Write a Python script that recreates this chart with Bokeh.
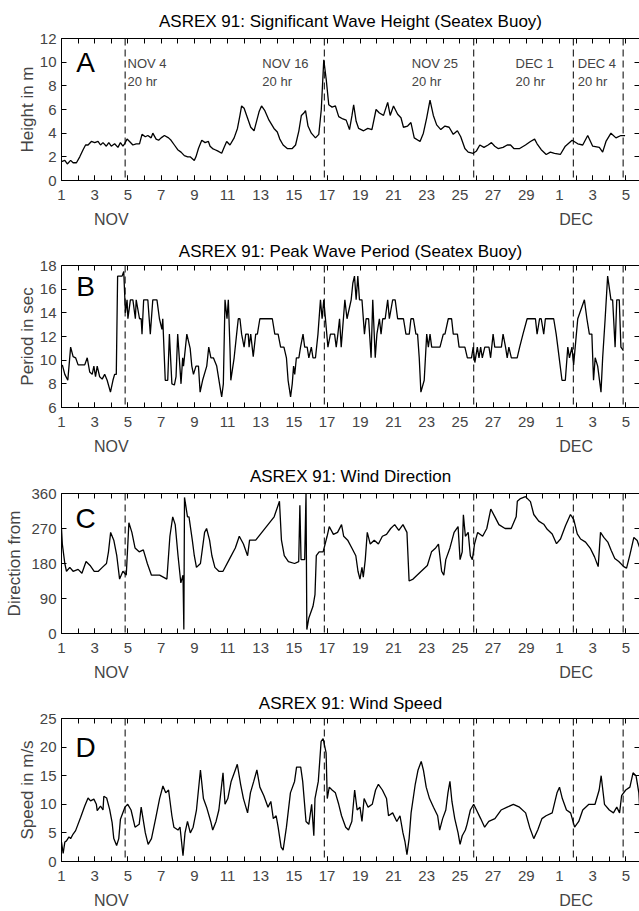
from bokeh.plotting import figure
from bokeh.models import Range1d, LinearAxis, FixedTicker, Span, Label
from bokeh.layouts import column
from bokeh.embed import file_html
from bokeh.resources import INLINE

FONT = "Liberation Sans"

# ---------------- data (day of Nov 1991; Dec 1 = day 31) ----------------
event_days = [4.833, 16.833, 25.833, 31.833, 34.833]
event_names = ["NOV 4", "NOV 16", "NOV 25", "DEC 1", "DEC 4"]
event_hours = ["20 hr", "20 hr", "20 hr", "20 hr", "20 hr"]
event_text_x = [4.98, 13.1, 22.1, 28.35, 32.1]

day_ticks = list(range(1, 37))
label_days = list(range(1, 36, 2))
label_overrides = {31: "1", 33: "3", 35: "5"}
month_days = [4, 32]
month_names = ["NOV", "DEC"]

hs_day = [1.0, 1.2, 1.35, 1.55, 1.7, 1.9, 2.1, 2.3, 2.45, 2.6, 2.8, 3.0, 3.2, 3.35, 3.5, 3.7, 3.85, 4.0,
          4.2, 4.4, 4.55, 4.7, 4.8, 4.95, 5.1, 5.3, 5.5, 5.7, 5.85, 6.05, 6.2, 6.4, 6.5, 6.7, 6.85, 7.0,
          7.2, 7.45, 7.6, 7.8, 8.0, 8.2, 8.4, 8.6, 8.75, 9.0, 9.1, 9.25, 9.45, 9.65, 9.85, 9.95, 10.1,
          10.25, 10.4, 10.65, 10.8, 10.95, 11.15, 11.4, 11.6, 11.75, 11.85, 12.0, 12.2, 12.4, 12.6,
          12.75, 12.9, 13.05, 13.25, 13.5, 13.8, 14.0, 14.15, 14.35, 14.6, 14.9, 15.1, 15.3, 15.45,
          15.6, 15.7, 15.85, 16.05, 16.3, 16.5, 16.65, 16.8, 16.95, 17.1, 17.3, 17.5, 17.7, 17.95,
          18.15, 18.35, 18.5, 18.6, 18.75, 18.9, 19.2, 19.45, 19.7, 19.95, 20.15, 20.4, 20.65, 20.8,
          21.0, 21.25, 21.45, 21.6, 21.85, 22.05, 22.25, 22.6, 22.8, 23.0, 23.2, 23.4, 23.6, 23.85,
          24.1, 24.35, 24.6, 24.85, 25.05, 25.3, 25.5, 25.8, 26.0, 26.2, 26.45, 26.7, 26.9, 27.1,
          27.3, 27.6, 27.85, 28.05, 28.25, 28.6, 28.95, 29.25, 29.5, 29.65, 29.9, 30.2, 30.45, 30.7,
          31.05, 31.35, 31.76, 32.1, 32.4, 32.7, 33.0, 33.4, 33.6, 33.8, 34.1, 34.4, 34.7, 34.95]
hs_val = [1.6, 1.7, 1.4, 1.7, 1.5, 1.5, 2.0, 2.6, 3.0, 3.0, 3.3, 3.2, 3.3, 3.0, 3.2, 2.9, 3.2, 2.9,
          3.1, 2.8, 3.2, 2.9, 3.1, 3.5, 3.3, 3.0, 3.1, 3.1, 3.9, 3.7, 3.8, 3.6, 4.0, 3.5, 3.4, 3.6,
          3.8, 3.6, 3.4, 3.0, 2.6, 2.4, 2.1, 2.0, 2.0, 1.7, 2.0, 2.7, 3.4, 3.2, 3.3, 2.9, 2.7,
          2.6, 2.5, 2.3, 2.8, 3.3, 3.0, 3.6, 4.4, 5.5, 6.3, 6.1, 5.3, 4.5, 4.2,
          5.0, 5.8, 6.3, 5.9, 5.1, 4.4, 4.1, 3.5, 3.0, 2.7, 2.7, 3.0, 4.2, 5.5,
          5.7, 5.9, 4.6, 4.0, 3.6, 3.9, 6.0, 10.2, 8.5, 6.4, 6.2, 6.3, 5.4, 5.2,
          5.1, 4.3, 5.5, 6.4, 5.0, 4.4, 4.2, 4.4, 4.3, 6.0, 5.7, 5.5, 6.6, 5.5,
          6.3, 5.6, 5.3, 4.5, 4.6, 4.9, 3.6, 3.3, 4.0, 5.3, 6.8, 5.5, 4.7, 4.3,
          4.6, 4.5, 3.9, 4.2, 3.7, 2.7, 2.4, 2.3, 2.5, 3.0, 2.8, 3.0, 3.2, 2.9,
          2.7, 2.8, 3.0, 3.0, 2.7, 2.7, 3.0, 3.3, 3.5, 3.1, 2.6, 2.2, 2.4, 2.3,
          2.2, 2.9, 3.4, 3.1, 3.0, 3.8, 2.9, 2.8, 2.4, 3.3, 4.0, 3.6, 3.8, 3.8]

tp_day = [1.05, 1.2, 1.38, 1.55, 1.7, 1.85, 2.0, 2.4, 2.55, 2.7, 2.85, 2.95, 3.05, 3.15, 3.3, 3.45,
          3.6, 3.75, 3.95, 4.1, 4.2, 4.3, 4.38, 4.65, 4.75, 4.85, 4.95, 5.0, 5.15, 5.3, 5.45, 5.5,
          5.7, 5.8, 5.85, 5.95, 6.2, 6.35, 6.5, 6.75, 6.9, 7.05, 7.1, 7.25, 7.4, 7.5, 7.65, 7.8, 7.9,
          8.0, 8.2, 8.3, 8.35, 8.55, 8.75, 8.85, 8.95, 9.1, 9.25, 9.35, 9.5, 9.75, 9.87, 10.0, 10.15,
          10.35, 10.6, 10.65, 10.75, 10.85, 10.97, 11.05, 11.15, 11.2, 11.4, 11.55, 11.65, 11.75,
          11.85, 12.0, 12.1, 12.25, 12.3, 12.4, 12.55, 12.7, 12.8, 12.95, 13.7, 13.85, 14.05, 14.2,
          14.4, 14.55, 14.65, 14.8, 14.9, 14.98, 15.05, 15.15, 15.3, 15.4, 15.55, 15.65, 15.8, 15.9,
          16.05, 16.15, 16.3, 16.45, 16.6, 16.7, 16.8, 16.9, 17.05, 17.2, 17.45, 17.55, 17.65, 17.75,
          17.85, 18.07, 18.2, 18.45, 18.55, 18.65, 18.75, 18.85, 18.95, 19.1, 19.25, 19.35, 19.5,
          19.65, 19.75, 19.9, 20.0, 20.15, 20.25, 20.35, 20.5, 20.65, 20.75, 20.95, 21.1, 21.25,
          21.6, 21.75, 21.95, 22.05, 22.2, 22.35, 22.45, 22.55, 22.65, 22.85, 23.0, 23.1, 23.2, 23.3,
          23.8, 24.0, 24.1, 24.3, 24.5, 24.6, 24.85, 24.95, 25.3, 25.45, 25.7, 25.8, 25.9, 26.05,
          26.15, 26.25, 26.35, 26.5, 26.75, 26.85, 27.0, 27.1, 27.5, 27.6, 27.75, 27.85, 27.95, 28.1,
          28.45, 28.6, 28.8, 29.05, 29.55, 29.65, 29.8, 29.9, 30.05, 30.15, 30.65, 30.8, 30.9, 31.15,
          31.35, 31.5, 31.6, 31.75, 31.85, 32.1, 32.5, 32.65, 32.8, 32.95, 33.05, 33.15, 33.3, 33.5,
          33.6, 33.75, 33.9, 34.1, 34.2, 34.35, 34.45, 34.6, 34.7, 34.85]
tp_val = [9.6, 8.8, 8.3, 11.1, 10.3, 10.2, 9.6, 9.6, 10.2, 9.0, 8.8, 9.5, 8.6, 9.5, 8.6, 8.4,
          8.8, 8.3, 7.3, 8.3, 8.8, 8.8, 17.1, 17.1, 17.5, 14.0, 15.1, 13.5, 15.1, 15.1, 13.5, 15.1,
          13.5, 13.5, 12.2, 15.1, 15.1, 12.2, 15.1, 15.1, 13.5, 12.6, 13.5, 8.3, 8.3, 12.2, 8.0, 7.9, 8.6,
          12.2, 8.0, 10.2, 9.5, 12.2, 11.0, 9.5, 8.8, 9.5, 9.5, 7.3, 8.3, 9.5, 11.1, 10.2, 10.2,
          9.5, 7.3, 6.9, 8.0, 15.1, 13.5, 15.1, 11.0, 8.3, 10.2, 12.2, 13.5, 13.5,
          12.2, 11.1, 12.2, 12.2, 11.1, 12.2, 10.3, 12.2, 12.2, 13.5, 13.5, 12.2, 12.2, 11.1,
          11.1, 10.2, 8.3, 6.9, 8.0, 9.5, 8.8, 10.2, 10.2, 11.1, 12.2, 11.1, 11.1, 10.2,
          11.1, 10.2, 10.2, 12.2, 15.1, 13.5, 15.1, 13.5, 11.1, 12.2, 12.2, 11.1, 12.2, 13.5,
          11.1, 15.1, 13.5, 15.1, 16.5, 17.1, 15.1, 17.1, 15.1, 15.1, 12.2, 13.5, 13.5,
          10.2, 15.1, 10.2, 12.2, 13.5, 12.2, 13.5, 13.5, 15.1, 13.5, 15.1, 15.1, 13.5,
          13.5, 12.2, 12.2, 13.5, 13.5, 12.2, 12.2, 10.2, 7.3, 8.3, 12.2, 11.1, 12.2, 11.1,
          11.1, 12.2, 12.2, 13.5, 13.5, 12.2, 12.2, 11.1, 11.1, 10.2, 10.2, 11.1, 9.8, 11.1,
          10.2, 11.1, 10.2, 11.1, 11.1, 10.2, 12.2, 11.1, 11.1, 12.2, 11.1, 10.2, 11.1, 10.2,
          10.2, 11.1, 12.2, 13.5, 13.5, 12.2, 13.5, 13.5, 12.2, 13.5, 13.5, 12.2, 11.1, 8.3,
          8.3, 11.1, 10.2, 11.1, 9.6, 13.5, 15.1, 13.5, 12.2, 12.2, 8.3, 10.2, 9.5, 7.3,
          10.2, 13.5, 17.1, 15.1, 15.1, 11.1, 15.1, 15.1, 11.1, 10.8]

wd_day = [1.0, 1.05, 1.2, 1.3, 1.5, 1.7, 2.0, 2.23, 2.48, 2.72, 2.97, 3.22, 3.46, 3.71, 3.83, 3.96,
          4.15, 4.33, 4.5, 4.7, 4.9, 5.06, 5.24, 5.43, 5.68, 5.93, 6.17, 6.42, 6.91, 7.35, 7.53,
          7.7, 7.85, 8.02, 8.19, 8.32, 8.37, 8.41, 8.59, 8.68, 8.88, 9.0, 9.13, 9.37, 9.62, 9.74,
          9.92, 10.06, 10.24, 10.48, 10.73, 11.1, 11.47, 11.71, 11.96, 12.21, 12.33, 12.7, 13.07,
          13.44, 13.81, 14.05, 14.13, 14.25, 14.42, 14.67, 15.04, 15.29, 15.36, 15.43, 15.65, 15.73,
          15.78, 15.9, 16.15, 16.27, 16.35, 16.52, 16.76, 17.0, 17.13, 17.38, 17.63, 17.87, 18.0,
          18.24, 18.49, 18.73, 18.86, 18.98, 19.1, 19.18, 19.3, 19.42, 19.6, 19.84, 20.09, 20.33,
          20.58, 20.83, 21.07, 21.32, 21.57, 21.81, 21.94, 22.18, 22.67, 23.04, 23.29, 23.54, 23.71,
          23.9, 24.03, 24.15, 24.4, 24.65, 24.89, 25.01, 25.14, 25.21, 25.33, 25.5, 25.63, 25.75,
          25.88, 26.07, 26.37, 26.62, 26.86, 27.11, 27.35, 27.72, 28.09, 28.39, 28.46, 28.65, 28.95,
          29.25, 29.45, 29.75, 30.05, 30.26, 30.56, 30.82, 31.06, 31.36, 31.66, 31.86, 32.07, 32.27,
          32.57, 32.87, 33.11, 33.33, 33.47, 33.67, 33.91, 34.11, 34.33, 34.57, 34.87, 35.04, 35.24,
          35.48, 35.68, 35.82]
wd_val = [270, 230, 180, 160, 170, 160, 165, 155, 185, 175, 160, 160, 170, 180, 210, 260,
          240, 200, 140, 160, 150, 285, 260, 220, 210, 215, 180, 150, 150, 140, 250,
          300, 280, 200, 130, 150, 10, 350, 300, 300, 240, 200, 170, 180, 260, 270,
          240, 200, 170, 160, 160, 190, 220, 250, 230, 200, 240, 240, 260,
          280, 300, 330, 340, 240, 200, 185, 180, 185, 330, 190, 190, 360,
          10, 40, 70, 100, 200, 210, 210, 250, 275, 255, 260, 280, 250,
          240, 220, 200, 160, 140, 170, 145, 190, 260, 230, 240, 230, 250,
          255, 270, 280, 265, 280, 260, 135, 140, 160, 175, 210, 220, 230,
          160, 150, 190, 220, 260, 275, 190, 210, 305, 250, 260, 200, 190,
          230, 260, 250, 270, 320, 300, 280, 270, 270, 300, 340, 347, 352,
          339, 306, 289, 281, 268, 256, 231, 243, 277, 306, 293, 256, 243,
          235, 218, 197, 172, 260, 247, 235, 214, 193, 185, 172, 168, 202,
          247, 239, 222]

ws_day = [1.0, 1.1, 1.2, 1.3, 1.45, 1.55, 1.7, 1.85, 2.15, 2.4, 2.6, 2.75, 2.95, 3.1, 3.15, 3.35,
          3.5, 3.55, 3.72, 3.9, 4.05, 4.15, 4.32, 4.45, 4.55, 4.82, 4.99, 5.19, 5.43, 5.68, 5.8,
          6.05, 6.22, 6.42, 6.67, 6.91, 7.11, 7.28, 7.45, 7.65, 7.77, 8.02, 8.14, 8.32, 8.44, 8.59,
          8.76, 8.93, 9.13, 9.37, 9.55, 9.74, 9.99, 10.11, 10.31, 10.48, 10.73, 10.85, 11.02, 11.22,
          11.47, 11.59, 11.79, 11.96, 12.21, 12.38, 12.58, 12.77, 12.95, 13.19, 13.44, 13.61, 13.76,
          13.93, 14.05, 14.23, 14.35, 14.55, 14.79, 15.04, 15.16, 15.41, 15.53, 15.73, 15.9, 16.07,
          16.2, 16.27, 16.47, 16.64, 16.76, 16.94, 17.01, 17.13, 17.3, 17.5, 17.7, 17.87, 18.12,
          18.29, 18.49, 18.66, 18.81, 18.98, 19.1, 19.23, 19.47, 19.72, 19.92, 20.09, 20.33, 20.58,
          20.7, 20.95, 21.2, 21.39, 21.57, 21.69, 21.81, 21.94, 22.06, 22.31, 22.48, 22.67, 22.8,
          22.97, 23.17, 23.41, 23.66, 23.78, 23.96, 24.15, 24.28, 24.4, 24.52, 24.69, 24.89, 25.01,
          25.14, 25.33, 25.43, 25.63, 25.83, 26.0, 26.25, 26.49, 26.74, 27.11, 27.48, 27.85, 28.22,
          28.59, 28.96, 29.2, 29.45, 29.69, 29.94, 30.19, 30.56, 30.85, 31.0, 31.17, 31.42, 31.67,
          31.91, 32.16, 32.4, 32.77, 33.14, 33.39, 33.51, 33.71, 34.0, 34.25, 34.45, 34.62, 34.74,
          34.99, 35.24, 35.43, 35.61, 35.78, 35.85]
ws_val = [3.4, 1.4, 3.4, 3.6, 4.3, 4.0, 4.8, 5.4, 7.7, 9.7, 11.1, 10.6, 10.9, 10.0, 8.9, 9.7,
          9.0, 11.4, 11.1, 9.1, 6.8, 4.0, 2.8, 4.0, 7.4, 9.5, 10.0, 9.0, 6.0, 6.5, 9.5,
          5.0, 3.0, 4.0, 7.5, 11.0, 13.2, 12.0, 12.5, 8.0, 6.0, 5.5, 6.0, 1.0, 5.0, 7.0,
          5.0, 6.0, 9.0, 16.0, 11.0, 9.5, 7.0, 5.5, 7.0, 9.0, 15.5, 10.0, 11.0, 14.0,
          16.0, 17.0, 13.5, 11.0, 8.5, 12.0, 14.0, 16.0, 13.0, 11.5, 9.5, 10.5, 7.5,
          8.0, 6.0, 2.5, 2.0, 6.0, 12.0, 14.0, 16.5, 16.5, 14.0, 7.0, 6.5, 10.0,
          4.5, 11.0, 14.0, 21.0, 21.5, 19.0, 11.0, 13.0, 12.5, 12.0, 10.0, 8.0, 6.0,
          5.5, 7.0, 12.5, 9.0, 9.5, 7.0, 11.0, 9.5, 10.0, 12.5, 13.5, 12.5, 11.0,
          8.0, 8.5, 7.0, 8.0, 5.0, 3.5, 1.2, 4.0, 8.5, 13.5, 16.0, 17.5, 16.0,
          13.0, 11.0, 9.5, 8.0, 5.5, 7.5, 9.0, 12.0, 14.0, 10.5, 7.5, 5.0, 3.0,
          4.5, 5.5, 6.5, 9.0, 10.0, 9.0, 7.5, 6.0, 7.0, 7.5, 9.0, 9.5, 10.0,
          9.5, 8.5, 6.0, 4.0, 5.5, 7.5, 8.0, 8.5, 12.0, 13.0, 11.0, 9.0, 8.5,
          6.0, 7.0, 9.0, 10.0, 10.0, 12.5, 15.0, 10.0, 9.0, 8.5, 9.5, 8.5, 11.5,
          12.5, 13.0, 15.5, 15.0, 12.0, 8.5]

X_END = 1 + 578 / 16.6


def make_panel(title, ylabel, yr, yticks, letter, letter_y, xs, ys, height,
               top, bottom, title_standoff, ylab_standoff, with_events=False):
    p = figure(width=639, height=height, x_range=Range1d(1, X_END),
               y_range=Range1d(*yr), x_axis_type=None, y_axis_type=None,
               output_backend="svg", toolbar_location=None,
               min_border_left=61, min_border_right=0,
               min_border_top=top, min_border_bottom=bottom)
    p.outline_line_color = None
    p.background_fill_color = "white"
    p.border_fill_color = "white"

    p.title.text = title
    p.title.align = "center"
    p.title.text_font = FONT
    p.title.text_font_size = "17px"
    p.title.text_font_style = "normal"
    p.title.text_color = "black"
    p.title.standoff = title_standoff

    common = dict(axis_line_color="black", major_tick_line_color="black",
                  minor_tick_line_color="black", major_tick_in=5, major_tick_out=0,
                  minor_tick_in=5, minor_tick_out=0)

    left = LinearAxis(ticker=FixedTicker(ticks=yticks), axis_label=ylabel,
                      axis_label_text_font=FONT, axis_label_text_font_size="17px",
                      axis_label_text_font_style="normal", axis_label_standoff=ylab_standoff,
                      major_label_text_font=FONT, major_label_text_font_size="15px",
                      major_label_standoff=5, **common)
    p.add_layout(left, "left")

    # tick marks only (no major ticks -> no labels)
    right = LinearAxis(ticker=FixedTicker(ticks=[], minor_ticks=yticks),
                       major_label_standoff=0, **common)
    right.axis_line_color = None
    p.add_layout(right, "right")

    top_ax = LinearAxis(ticker=FixedTicker(ticks=[], minor_ticks=day_ticks),
                        major_label_standoff=0, **common)
    p.add_layout(top_ax, "above")

    bottom_ax = LinearAxis(ticker=FixedTicker(ticks=label_days, minor_ticks=day_ticks),
                           major_label_overrides=label_overrides,
                           major_label_text_font=FONT, major_label_text_font_size="15px",
                           major_label_standoff=9, **common)
    p.add_layout(bottom_ax, "below")

    month_ax = LinearAxis(ticker=FixedTicker(ticks=month_days),
                          major_label_overrides=dict(zip(month_days, month_names)),
                          major_label_text_font=FONT, major_label_text_font_size="16px",
                          major_label_standoff=2, axis_line_color=None,
                          major_tick_line_color=None, minor_tick_line_color=None)
    p.add_layout(month_ax, "below")

    for d in event_days:
        p.add_layout(Span(location=d, dimension="height", line_color="black",
                          line_width=1, line_dash="7 4"))

    p.line(xs, ys, line_color="black", line_width=1.3)

    p.add_layout(Label(x=2.45, y=letter_y, text=letter, text_font=FONT,
                       text_font_size="28px", text_align="center",
                       text_baseline="middle", text_color="black"))

    if with_events:
        ymax = yr[1]
        for tx, nm, hr in zip(event_text_x, event_names, event_hours):
            p.add_layout(Label(x=tx, y=ymax - 17.5 / 12.08, text=nm, text_font=FONT,
                               text_font_size="13px", text_baseline="top", text_align="left"))
            p.add_layout(Label(x=tx, y=ymax - 36.5 / 12.08, text=hr, text_font=FONT,
                               text_font_size="13px", text_baseline="top", text_align="left"))
    return p


pa = make_panel("ASREX 91: Significant Wave Height (Seatex Buoy)", "Height in m", (0, 12),
                [0, 2, 4, 6, 8, 10, 12], "A", 10.0, hs_day, hs_val, 230, 38, 47, 15, 0,
                with_events=True)
pb = make_panel("ASREX 91: Peak Wave Period (Seatex Buoy)", "Period in sec", (6, 18),
                [6, 8, 10, 12, 14, 16, 18], "B", 16.2, tp_day, tp_val, 227, 35, 47, 10, 0)
pc = make_panel("ASREX 91: Wind Direction", "Direction from", (0, 360),
                [0, 90, 180, 270, 360], "C", 295, wd_day, wd_val, 226, 35, 47, 15, 4)
pd_ = make_panel("ASREX 91: Wind Speed", "Speed in m/s", (0, 25),
                 [0, 5, 10, 15, 20, 25], "D", 20, ws_day, ws_val, 228, 35, 48, 12, 0)

layout = column(pa, pb, pc, pd_, spacing=0)
open("out.html", "w").write(file_html(layout, INLINE))
